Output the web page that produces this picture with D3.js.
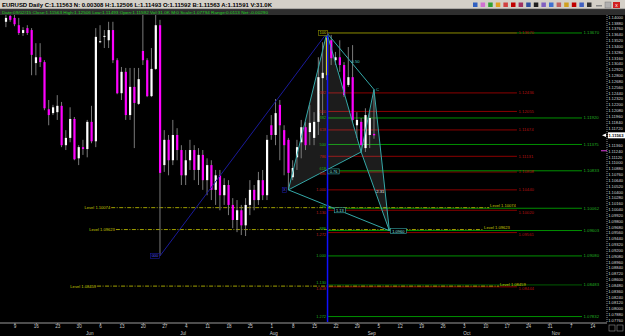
<!DOCTYPE html>
<html>
<head>
<meta charset="utf-8">
<script src="https://cdn.jsdelivr.net/npm/d3@7"></script>
<style>
html, body { margin: 0; padding: 0; background: #000; }
svg { display: block; font-family: "Liberation Sans", "DejaVu Sans", sans-serif; }
</style>
</head>
<body>
<svg id="chart" width="625" height="336"></svg>
<script>
// daily EURUSD candles, one per bar index (0 = first bar on the left)
var opens  = [1.1390,1.1402,1.1398,1.1383,1.1367,1.1377,1.1373,1.1305,1.1317,1.1307,1.1210,1.1202,1.1204,1.1217,1.1136,1.1151,1.1190,1.1109,1.1132,1.1128,1.1184,1.1144,1.1348,1.1359,1.1352,1.1373,1.1311,1.1243,1.1287,1.1198,1.1256,1.1221,1.1330,1.1311,1.1237,1.1293,1.1383,
              1.1095,1.1147,1.1105,1.1157,1.1126,1.1074,1.1105,1.1126,1.1085,1.1116,1.1064,1.1095,1.1044,1.1074,1.1033,1.1054,1.1013,1.0982,1.1002,1.0971,1.1013,1.1044,1.1023,1.1064,1.1033,
              1.1177,1.1157,1.1219,1.1167,1.1147,1.1070,1.1111,1.1142,1.1173,1.1163,1.1151,1.1184,1.1274,1.1280,1.1352,1.1311,1.1317,1.1301,1.1260,1.1276,1.1177,1.1184,1.1130,1.1157,1.11592];
var highs  = [1.1404,1.1404,1.1404,1.1398,1.1379,1.1383,1.1377,1.1346,1.1346,1.1311,1.1229,1.1219,1.1239,1.1225,1.1167,1.1214,1.1194,1.1136,1.1147,1.1188,1.1217,1.1377,1.1383,1.1373,1.1390,1.1390,1.1315,1.1297,1.1295,1.1295,1.1295,1.1295,1.1404,1.1315,1.1336,1.1404,1.1394,
              1.1167,1.1157,1.1188,1.1171,1.1136,1.1126,1.1147,1.1136,1.1130,1.1126,1.1109,1.1105,1.1085,1.1085,1.1068,1.1064,1.1027,1.1023,1.1013,1.1027,1.1064,1.1054,1.1081,1.1085,1.1157,
              1.1198,1.1231,1.1229,1.1177,1.1151,1.1105,1.1147,1.1188,1.1184,1.1219,1.1204,1.1317,1.1348,1.1367,1.1363,1.1328,1.1352,1.1307,1.1338,1.1342,1.1204,1.1192,1.1212,1.1208,1.12506];
var lows   = [1.1379,1.1390,1.1381,1.1363,1.1361,1.1363,1.1280,1.1280,1.1297,1.1208,1.1177,1.1198,1.1188,1.1132,1.1126,1.1142,1.1105,1.1095,1.1116,1.1111,1.1140,1.1132,1.1346,1.1336,1.1336,1.1305,1.1241,1.1229,1.1188,1.1188,1.1130,1.1219,1.1301,1.1235,1.1235,1.1291,1.0908,
              1.1081,1.1074,1.1095,1.1105,1.1054,1.1054,1.1085,1.1064,1.1054,1.1044,1.1033,1.1023,1.1013,1.1002,1.1013,1.0992,1.0965,1.0957,1.0951,1.0949,1.0992,1.1002,1.1013,1.1023,1.1023,
              1.1147,1.1136,1.1105,1.1074,1.1044,1.1064,1.1085,1.1109,1.1126,1.1136,1.1136,1.1157,1.1198,1.1270,1.1301,1.1301,1.1287,1.1235,1.1256,1.1184,1.1151,1.1122,1.1122,1.1130,1.11493];
var closes = [1.1398,1.1394,1.1385,1.1367,1.1373,1.1367,1.1322,1.1317,1.1307,1.1212,1.1198,1.1214,1.1217,1.1136,1.1151,1.1190,1.1107,1.1132,1.1128,1.1184,1.1144,1.1359,1.1350,1.1361,1.1373,1.1311,1.1243,1.1287,1.1198,1.1256,1.1223,1.1272,1.1311,1.1237,1.1293,1.1383,1.1079,
              1.1147,1.1105,1.1157,1.1126,1.1074,1.1105,1.1126,1.1085,1.1116,1.1064,1.1095,1.1044,1.1074,1.1033,1.1054,1.1013,1.0982,1.1002,1.0971,1.1013,1.1044,1.1023,1.1064,1.1033,1.1147,
              1.1157,1.1202,1.1177,1.1136,1.1079,1.1089,1.1132,1.1173,1.1136,1.1182,1.1184,1.1276,1.1285,1.1357,1.1315,1.1317,1.1301,1.1239,1.1276,1.1188,1.1188,1.1136,1.1198,1.1192,1.11563];
var selectedBar = 75;

// price axis and date axis labels
var priceTicks = d3.range(1.1400, 1.0770, -0.0012);
var weekTickIdx = [2,7,12,17,22,27,32,37,42,47,52,57,62,67,72,77,82,87,92,97,102,107,112,117,122,127,132,137];
var weekLabels = ['9','16','23','30','6','13','20','27','4','11','18','25','1','8','15','22','29','5','12','19','26','3','10','17','24','31','7','14'];
var monthIdx = [19.6, 41.4, 62.6, 85.5, 107.7, 128.5];
var monthLabels = ['Jun','Jul','Aug','Sep','Oct','Nov'];

// fibonacci retracement of X-A (red) and of the larger swing (green)
var redLevels = [1.13670,1.12436,1.12055,1.11674,1.11131,1.10808,1.10440,1.10020,1.09561,1.08444];
var redRatios = ['','382','500','618','786','886','1.000','1.130','1.272','1.618'];
var greenLevels = [1.13670,1.11920,1.11375,1.10833,1.10062,1.09603,1.09080,1.08483,1.07832];
var greenRatios = ['','382','500','618','786','886','1.000','1.130','1.272'];

// horizontal "Level" lines
var levelPrices = [1.10074, 1.09623, 1.08459];
var levelFrom = [24.6, 25.7, 21.3];
var levelTo = [112.9, 111.5, 115.2];

// harmonic pattern X A B C D
var patIdx = [66, 75, 83, 86, 89.6];
var patPrice = [1.1044, 1.1367, 1.1122, 1.12506, 1.0960];
var swingIdx = [36, 75];
var swingPrice = [1.0908, 1.1367];

var lastPrice = 1.11563;
var titleText = 'EURUSD Daily C:1.11563 N: 0.00308 H:1.12506 L:1.11493 O:1.11592 B:1.11563 A:1.11591 V:31.0K';
var infoText = 'Date:09/02/15 Close:1.11563 High:1.12506 Low:1.11493 Open:1.11592 Vol:31.0K M:0 Scale:1.07794 Range:0.0113 Net:-0.00290';
var toolColors = ['#3060c0','#d070d0','#30a030','#e0a020','#d04040','#c00000','#a03060','#3050a0','#202020','#8060c0','#4070d0','#c06060','#d0a020','#c00000','#4060c0','#303030'];

var svg = d3.select('#chart');
var x = d3.scaleLinear().domain([0, 140]).range([5.9, 5.9 + 140 * 4.28]);
var y = d3.scaleLinear().domain([1.0772, 1.1404]).range([322, 15]);
var fmt5 = d3.format('.5f');

// is another line within a few pixels of this price?
var near = (p, list) => list.some(q => q !== p && Math.abs(y(q) - y(p)) < 4);

svg.append('rect').attr('width', 625).attr('height', 336).attr('fill', '#000');

// title bars
svg.append('rect').attr('width', 625).attr('height', 9).attr('fill', '#d4d0c8');
svg.append('line').attr('x1', 0).attr('x2', 625).attr('y1', 9).attr('y2', 9).attr('stroke', '#808080');
svg.append('rect').attr('y', 9.5).attr('width', 625).attr('height', 5.5).attr('fill', '#2e2e2e');
svg.append('text').attr('x', 2).attr('y', 7).attr('font-size', 5.4).attr('font-weight', 'bold')
  .attr('textLength', 270).attr('lengthAdjust', 'spacingAndGlyphs').attr('fill', '#000').text(titleText);
svg.append('text').attr('x', 2).attr('y', 14).attr('font-size', 4.2)
  .attr('textLength', 266).attr('lengthAdjust', 'spacingAndGlyphs').attr('fill', '#20d020').text(infoText);
svg.append('g').selectAll('rect').data(toolColors).enter().append('rect')
  .attr('x', (d, i) => 473 + i * 7.6).attr('y', 2.5).attr('width', 4.5).attr('height', 4.5).attr('fill', d => d);
svg.append('rect').attr('x', 596).attr('y', 5).attr('width', 6).attr('height', 1.5).attr('fill', '#888');
svg.append('rect').attr('x', 605).attr('y', 2).attr('width', 6).attr('height', 6).attr('fill', '#b0b0b0').attr('stroke', '#777').attr('stroke-width', 0.5);
svg.append('rect').attr('x', 613).attr('y', 2).attr('width', 7).attr('height', 6).attr('fill', '#d02020');
svg.append('text').attr('x', 616.5).attr('y', 7).attr('font-size', 5).attr('text-anchor', 'middle').attr('fill', '#fff').text('x');

// clip for the plot area
svg.append('clipPath').attr('id', 'plotClip').append('rect')
  .attr('x', 0).attr('y', 15).attr('width', 607).attr('height', 307);
var plot = svg.append('g').attr('clip-path', 'url(#plotClip)');

var blueX = x(75.15);

// red retracement lines
plot.append('g').selectAll('line').data(redLevels).enter().append('line')
  .attr('x1', blueX).attr('x2', x(119.4))
  .attr('y1', d => y(d)).attr('y2', d => y(d))
  .attr('stroke', (d, i) => i === 0 ? '#8c8c00' : '#8b0000').attr('stroke-width', 1);
// green retracement lines
plot.append('g').selectAll('line').data(greenLevels).enter().append('line')
  .attr('x1', (d, i) => i === 0 ? x(119.4) : blueX).attr('x2', x(134.6))
  .attr('y1', d => y(d)).attr('y2', d => y(d))
  .attr('stroke', (d, i) => i === 7 ? '#005a00' : '#009000').attr('stroke-width', 1);

// level lines
levelPrices.forEach(function(p, i) {
  plot.append('line')
    .attr('x1', x(levelFrom[i])).attr('x2', x(levelTo[i]))
    .attr('y1', y(p)).attr('y2', y(p))
    .attr('stroke', '#a0a000').attr('stroke-width', 1).attr('stroke-dasharray', '4,1.5,1,1.5');
  plot.append('text').attr('x', x(levelFrom[i]) - 1).attr('y', y(p) + 1.5)
    .attr('text-anchor', 'end').attr('font-size', 4.1).attr('fill', '#c8c800').text('Level ' + fmt5(p));
  plot.append('text').attr('x', x(levelTo[i]) + 1).attr('y', y(p) - 0.6)
    .attr('font-size', 4.1).attr('fill', '#c8c800').text('Level ' + fmt5(p));
});

// pattern fill triangles
var pt = i => [x(patIdx[i]), y(patPrice[i])];
plot.append('g').selectAll('polygon').data([[0, 1, 2], [2, 3, 4]]).enter().append('polygon')
  .attr('points', d => d.map(i => pt(i).join(',')).join(' '))
  .attr('fill', '#ffffff').attr('fill-opacity', 0.11);

// candles
var bars = d3.range(opens.length);
var candles = plot.append('g');
candles.selectAll('line').data(bars).enter().append('line')
  .attr('x1', i => x(i)).attr('x2', i => x(i))
  .attr('y1', i => y(highs[i])).attr('y2', i => y(lows[i]))
  .attr('stroke', '#7a7a7a').attr('stroke-width', 1);
candles.selectAll('rect').data(bars).enter().append('rect')
  .attr('x', i => x(i) - 1).attr('width', 2.2)
  .attr('y', i => y(Math.max(opens[i], closes[i])))
  .attr('height', i => Math.max(1, Math.abs(y(opens[i]) - y(closes[i]))))
  .attr('fill', i => i === selectedBar ? '#ffff00' : (closes[i] >= opens[i] ? '#ffffff' : '#ff00ff'));

// swing line from the low to the high
plot.append('line')
  .attr('x1', x(swingIdx[0])).attr('y1', y(swingPrice[0]))
  .attr('x2', x(swingIdx[1])).attr('y2', y(swingPrice[1]))
  .attr('stroke', '#1a1a9a').attr('stroke-width', 1);

// pattern legs
var legs = [[0,1],[1,2],[0,2],[1,3],[2,3],[3,4],[2,4],[0,4]];
plot.append('g').selectAll('line').data(legs).enter().append('line')
  .attr('x1', d => pt(d[0])[0]).attr('y1', d => pt(d[0])[1])
  .attr('x2', d => pt(d[1])[0]).attr('y2', d => pt(d[1])[1])
  .attr('stroke', '#34a8a8').attr('stroke-width', 1);

// blue vertical
plot.append('line').attr('x1', blueX).attr('x2', blueX)
  .attr('y1', y(1.1367)).attr('y2', 322).attr('stroke', '#1010ff').attr('stroke-width', 1.5);

// ratio labels left of the blue line; when a red and a green line are close,
// the red label goes under its line and the green one above
plot.append('g').selectAll('text').data(redLevels).enter().append('text')
  .attr('x', blueX - 1.5).attr('y', d => y(d) + (near(d, greenLevels) ? 3.4 : 1.4)).attr('text-anchor', 'end')
  .attr('font-size', 3.9).attr('fill', '#c02020').text((d, i) => redRatios[i]);
plot.append('g').selectAll('text').data(greenLevels).enter().append('text')
  .attr('x', blueX - 1.5).attr('y', d => y(d) + (near(d, redLevels) ? -0.6 : 1.4)).attr('text-anchor', 'end')
  .attr('font-size', 3.9).attr('fill', '#20b020').text((d, i) => greenRatios[i]);

// price labels at the right of the fib lines
plot.append('g').selectAll('text').data(redLevels).enter().append('text')
  .attr('x', x(119.4) + 1.5).attr('y', d => y(d) + (near(d, levelPrices) ? 3.6 : 1.5))
  .attr('font-size', 4.3).attr('fill', '#b01010').text(d => fmt5(d));
plot.append('g').selectAll('text').data(greenLevels).enter().append('text')
  .attr('x', x(134.6) + 1.5).attr('y', d => y(d) + 1.5)
  .attr('font-size', 4.3).attr('fill', '#20b020').text(d => fmt5(d));

// small tags on the pattern
function tag(cx, cy, txt, stroke, fill) {
  var g = plot.append('g');
  var w = txt.length * 2.3 + 2;
  g.append('rect').attr('x', cx - w / 2).attr('y', cy - 2.5).attr('width', w).attr('height', 5)
    .attr('fill', '#000').attr('stroke', stroke).attr('stroke-width', 0.6);
  g.append('text').attr('x', cx).attr('y', cy + 1.5).attr('text-anchor', 'middle')
    .attr('font-size', 4).attr('fill', fill).text(txt);
}
tag(x(swingIdx[0]) - 5, y(swingPrice[0]), '000', '#1a1a9a', '#5050ff');
tag(pt(0)[0] - 4, pt(0)[1], 'X', '#1a1a9a', '#5050ff');
tag(pt(1)[0] - 4, pt(1)[1], '100', '#8c8c00', '#c8c800');
tag(blueX + 6, y(1.1082), '0.76', '#34a8a8', '#8ae0e0');
tag((pt(0)[0] + pt(4)[0]) / 2 + 1, (pt(0)[1] + pt(4)[1]) / 2, '1.13', '#34a8a8', '#8ae0e0');
tag(pt(4)[0] + 9, pt(4)[1] + 0.5, '1.0960', '#34a8a8', '#8ae0e0');
plot.append('text').attr('x', (pt(2)[0] + pt(4)[0]) / 2 + 1).attr('y', (pt(2)[1] + pt(4)[1]) / 2 + 1.5)
  .attr('font-size', 4.2).attr('fill', '#e0e0e0').text('2.31');
plot.append('text').attr('x', (pt(1)[0] + pt(3)[0]) / 2 + 1).attr('y', (pt(1)[1] + pt(3)[1]) / 2 + 1.5)
  .attr('font-size', 4.2).attr('fill', '#40c0c0').text('0.50');
plot.append('text').attr('x', pt(3)[0] + 2).attr('y', pt(3)[1] + 1.5)
  .attr('font-size', 4.2).attr('fill', '#40c0c0').text('C');

// price axis on the right
svg.append('line').attr('x1', 607).attr('x2', 607).attr('y1', 15).attr('y2', 322)
  .attr('stroke', '#909090').attr('stroke-dasharray', '1,1');
var yAxis = d3.axisRight(y).tickValues(priceTicks.filter(p => Math.abs(y(p) - y(lastPrice)) > 4.5))
  .tickFormat(fmt5).tickSize(0).tickPadding(1.2);
var ya = svg.append('g').attr('transform', 'translate(607,0)').call(yAxis);
ya.select('.domain').remove();
ya.selectAll('text').attr('font-size', 4.1).attr('fill', '#d8d8d8')
  .attr('font-family', '"Liberation Sans", sans-serif');

// last price marker
svg.append('rect').attr('x', 608).attr('y', y(lastPrice) - 3).attr('width', 17).attr('height', 6).attr('fill', '#fff');
svg.append('text').attr('x', 608.6).attr('y', y(lastPrice) + 1.6).attr('font-size', 4.2).attr('font-weight', 'bold')
  .attr('fill', '#000').text(fmt5(lastPrice));
svg.append('path').attr('d', 'M602,' + y(lastPrice) + ' l4,-1.8 v3.6 z').attr('fill', '#fff');
svg.append('line').attr('x1', 601).attr('x2', 607).attr('y1', y(1.11245)).attr('y2', y(1.11245)).attr('stroke', '#e040e0');

// date axis
svg.append('line').attr('x1', 0).attr('x2', 607).attr('y1', 323).attr('y2', 323).attr('stroke', '#9a9a9a');
var xAxis = d3.axisBottom(x).tickValues(weekTickIdx).tickFormat((d, i) => weekLabels[i]).tickSize(1.5).tickPadding(0.5);
var xa = svg.append('g').attr('transform', 'translate(0,323)').call(xAxis);
xa.select('.domain').remove();
xa.selectAll('line').attr('stroke', '#9a9a9a');
xa.selectAll('text').attr('font-size', 4.6).attr('fill', '#c8c8c8').attr('font-family', '"Liberation Sans", sans-serif');
svg.append('g').selectAll('text').data(monthLabels).enter().append('text')
  .attr('x', (d, i) => x(monthIdx[i])).attr('y', 334.5).attr('text-anchor', 'middle')
  .attr('font-size', 4.6).attr('fill', '#c8c8c8').text(d => d);
svg.append('rect').attr('x', 609).attr('y', 325).attr('width', 6).attr('height', 6).attr('fill', 'none').attr('stroke', '#909090').attr('stroke-width', 0.6);
svg.append('rect').attr('x', 617).attr('y', 325).attr('width', 6).attr('height', 6).attr('fill', 'none').attr('stroke', '#909090').attr('stroke-width', 0.6);
</script>
</body>
</html>
